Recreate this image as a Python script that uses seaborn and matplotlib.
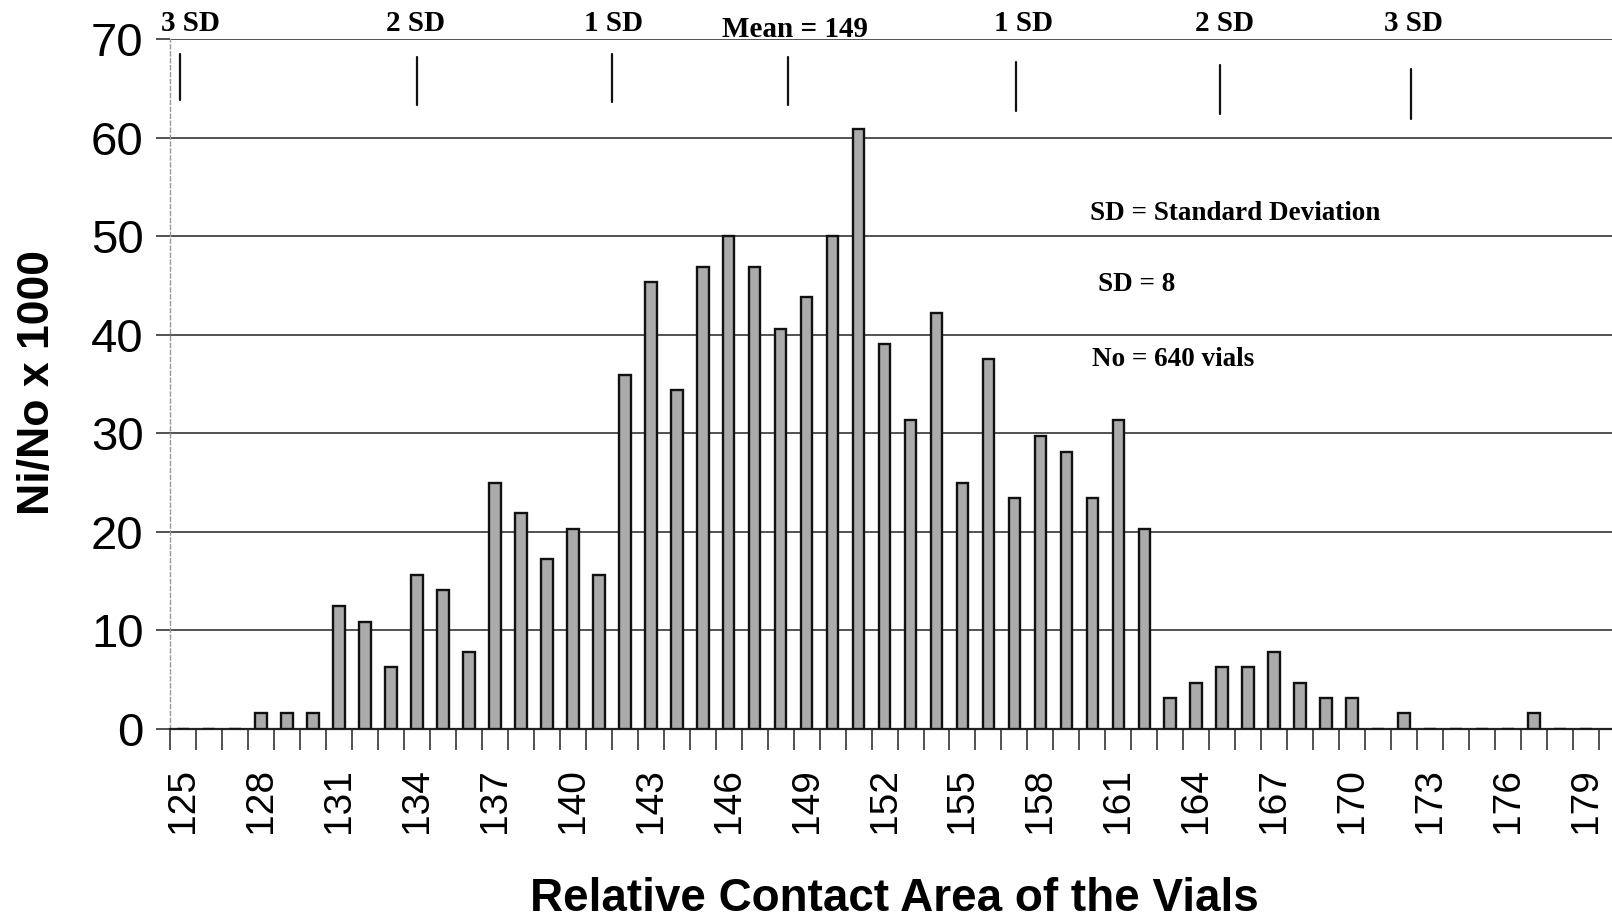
import numpy as np
import pandas as pd
import matplotlib
matplotlib.use("Agg")
import matplotlib.pyplot as plt
import seaborn as sns

# ---- data ----
categories = list(range(125, 180))  # 125 .. 179
values = [0, 0, 0, 1.6, 1.6, 1.6, 12.5, 10.9, 6.3, 15.6,
          14.1, 7.8, 25.0, 21.9, 17.2, 20.3, 15.6, 35.9, 45.3, 34.4,
          46.9, 50.0, 46.9, 40.6, 43.8, 50.0, 60.9, 39.1, 31.3, 42.2,
          25.0, 37.5, 23.4, 29.7, 28.1, 23.4, 31.3, 20.3, 3.1, 4.7,
          6.3, 6.3, 7.8, 4.7, 3.1, 3.1, 0, 1.6, 0, 0,
          0, 0, 1.6, 0, 0]
tick_labels = [str(c) for c in categories[::3]]

sd_labels = ["3 SD", "2 SD", "1 SD", "Mean = 149", "1 SD", "2 SD", "3 SD"]
sd_marks = [124.9, 134.0, 141.5, 148.3, 157.05, 164.9, 172.25]
sd_text_x = [125.3, 133.95, 141.55, 148.55, 157.35, 165.1, 172.35]
sd_line_top = [68.5, 68.2, 68.5, 68.2, 67.7, 67.4, 67.0]
sd_line_bot = [63.8, 63.3, 63.6, 63.3, 62.7, 62.4, 61.9]

notes = ["SD = Standard Deviation", "SD = 8", "No = 640 vials"]
notes_x = [159.9, 160.2, 160.0]
notes_y = [52.3, 45.1, 37.45]

df = pd.DataFrame({"area": [str(c) for c in categories], "val": values})

sns.set_theme(style="white")
plt.rcParams["font.family"] = ["Liberation Sans", "DejaVu Sans"]
plt.rcParams["text.color"] = "black"
plt.rcParams["axes.labelcolor"] = "black"
plt.rcParams["xtick.color"] = "black"
plt.rcParams["ytick.color"] = "black"

fig = plt.figure(figsize=(16.12, 9.19), dpi=100)
ax = fig.add_axes([0.1055, 0.2067, 1.0 - 0.1055, 0.9576 - 0.2067])

sns.barplot(data=df, x="area", y="val", order=[str(c) for c in categories],
            color="#ababab", edgecolor="#111111", linewidth=1.7,
            width=0.45, saturation=1, ax=ax, zorder=3)

first = categories[0]
ax.set_xlim(-0.5, 55.0)
ax.set_ylim(0, 70)

# y grid
ax.set_yticks(range(0, 71, 10))
ax.yaxis.grid(True, color="#444444", linewidth=1.3, zorder=0)
ax.xaxis.grid(False)
ax.tick_params(axis="y", length=10, width=1.3, color="#444444", left=True,
               labelsize=34, pad=9, direction="out")

# x ticks at category boundaries, labels every 3
ax.set_xticks(np.arange(-0.5, len(categories) + 0.5, 1.0), minor=True)
ax.set_xticks(np.arange(0, len(categories), 3))
ax.set_xticklabels(tick_labels, rotation=90)
ax.tick_params(axis="x", which="major", length=0, labelsize=28, pad=28)
ax.tick_params(axis="x", which="minor", length=15, width=1.2, color="#333333",
               bottom=True, direction="out")

for s in ["top", "right"]:
    ax.spines[s].set_visible(False)
ax.spines["bottom"].set_color("#222222")
ax.spines["bottom"].set_linewidth(1.6)
ax.spines["left"].set_color("#999999")
ax.spines["left"].set_linewidth(1.0)
ax.spines["left"].set_linestyle((0, (3, 2)))

ax.set_xlabel("Relative Contact Area of the Vials", fontsize=33,
              fontweight="bold")
ax.set_ylabel("Ni/No x 1000", fontsize=32, fontweight="bold")
ax.xaxis.set_label_coords(0.5 + 0.002, -0.214)
ax.yaxis.set_label_coords(-0.078, 0.502)

# SD markers
for lab, xm, xt, top, bot in zip(sd_labels, sd_marks, sd_text_x,
                                 sd_line_top, sd_line_bot):
    ax.plot([xm - first, xm - first], [bot, top], color="#111111",
            linewidth=1.6, zorder=4)
    ax.text(xt - first, 71.0 if lab.startswith("Mean") else 71.6, lab,
            ha="center", va="center", fontsize=21, fontweight="bold",
            family=["Liberation Serif"], clip_on=False)

for t, x, y in zip(notes, notes_x, notes_y):
    ax.text(x - first, y, t, ha="left", va="center", fontsize=19.5,
            fontweight="bold", family=["Liberation Serif"])

fig.savefig("out.png", dpi=100)
